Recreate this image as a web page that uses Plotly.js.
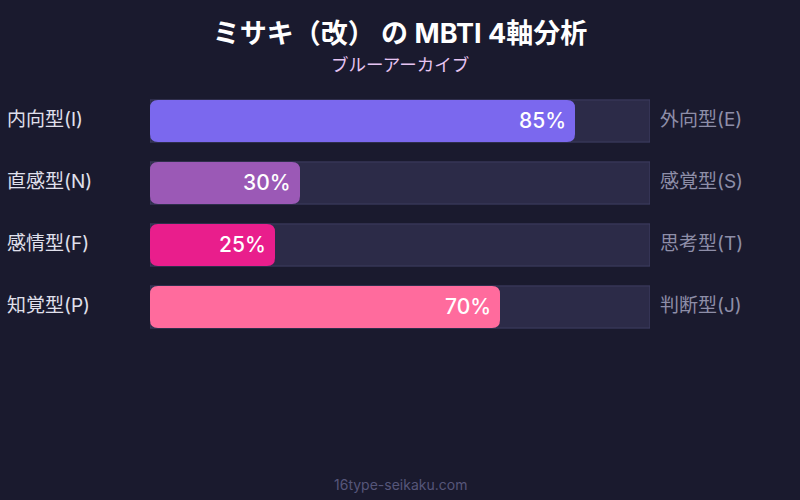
<!DOCTYPE html>
<html>
<head>
<meta charset="utf-8">
<script src="https://cdn.plot.ly/plotly-3.0.1.min.js"></script>
<style>html,body{margin:0;padding:0;background:#1a1a2e;}#chart{width:800px;height:500px;}</style>
</head>
<body>
<div id="chart"></div>
<script>
const axes = ["IE", "NS", "FT", "PJ"];
const leftLabels = ["内向型(I)", "直感型(N)", "感情型(F)", "知覚型(P)"];
const rightLabels = ["外向型(E)", "感覚型(S)", "思考型(T)", "判断型(J)"];
const values = [85, 30, 25, 70];
const trackValues = [100, 100, 100, 100];
const barColors = ["#7b68ee", "#9b59b6", "#e91e8c", "#ff6b9d"];

const FONT = "Inter, 'Noto Sans CJK JP', sans-serif";
const rows = axes.map((_, i) => i);

// geometry of the plot area (px) used to convert a px corner radius to data units
const W = 800, H = 500, M = {l: 150, r: 150, t: 90, b: 162};
const BAR_W = 0.68;            // bar thickness in category units
const RADIUS_PX = 8;
const XMAX = 100;
const pxPerX = (W - M.l - M.r) / XMAX;
const pxPerY = (H - M.t - M.b) / rows.length;
const rx = RADIUS_PX / pxPerX, ry = RADIUS_PX / pxPerY;

const track = {
  type: "bar", orientation: "h",
  x: trackValues, y: rows, width: BAR_W,
  marker: {color: "#2c2b48", line: {color: "#3f3e62", width: 1}},
  hoverinfo: "skip", showlegend: false
};

// rounded value bars, drawn in data coordinates from the values array
function roundedBar(v, yc, color) {
  const h = BAR_W / 2, y0 = yc - h, y1 = yc + h;
  const p = [
    `M${rx},${y0}`, `L${v - rx},${y0}`, `Q${v},${y0} ${v},${y0 + ry}`,
    `L${v},${y1 - ry}`, `Q${v},${y1} ${v - rx},${y1}`,
    `L${rx},${y1}`, `Q0,${y1} 0,${y1 - ry}`,
    `L0,${y0 + ry}`, `Q0,${y0} ${rx},${y0}`, "Z"
  ].join(" ");
  return {type: "path", xref: "x", yref: "y", path: p, fillcolor: color,
          line: {width: 0}, layer: "above"};
}
const shapes = values.map((v, i) => roundedBar(v, rows[i], barColors[i]));

const pyToPaper = py => (H - M.b - py) / (H - M.t - M.b);

const annotations = [];
rows.forEach((r, i) => {
  annotations.push({
    x: -0.29, xref: "paper", y: r, yref: "y", xanchor: "left", yanchor: "middle", yshift: 2,
    text: leftLabels[i], showarrow: false,
    font: {family: FONT, size: 19, color: "#e0e0ec"}
  });
  annotations.push({
    x: 1.016, xref: "paper", y: r, yref: "y", xanchor: "left", yanchor: "middle", yshift: 2,
    text: rightLabels[i], showarrow: false,
    font: {family: FONT, size: 19, color: "#8e8ea8"}
  });
  annotations.push({
    x: values[i], xref: "x", y: r, yref: "y", xanchor: "right", yanchor: "middle",
    xshift: -7, yshift: 1, text: values[i] + "%", showarrow: false,
    font: {family: FONT, size: 21, color: "#ffffff", weight: 500}
  });
});
annotations.push({
  x: 0.5, xref: "paper", y: pyToPaper(64), yref: "paper", xanchor: "center", yanchor: "middle",
  text: "ブルーアーカイブ", showarrow: false,
  font: {family: FONT, size: 17.5, color: "#e6c4f2"}
});
annotations.push({
  x: 0.5, xref: "paper", y: pyToPaper(484), yref: "paper", xanchor: "center", yanchor: "middle",
  text: "16type-seikaku.com", showarrow: false,
  font: {family: FONT, size: 14, color: "#56567a"}
});

const layout = {
  width: W, height: H,
  paper_bgcolor: "#1a1a2e", plot_bgcolor: "#1a1a2e",
  margin: M,
  barmode: "overlay",
  title: {
    text: "ミサキ（改） の MBTI 4軸分析",
    x: 0.5, xanchor: "center", y: 1 - 34/500, yref: "container", yanchor: "middle",
    font: {family: FONT, size: 27, color: "#ffffff", weight: 700}
  },
  xaxis: {range: [0, XMAX], showgrid: false, zeroline: false, showticklabels: false, showline: false, fixedrange: true},
  yaxis: {type: "linear", range: [rows.length - 0.5, -0.5], showgrid: false, zeroline: false, showticklabels: false, showline: false, fixedrange: true},
  shapes: shapes,
  annotations: annotations
};

Plotly.newPlot("chart", [track], layout, {displayModeBar: false, staticPlot: true});
</script>
</body>
</html>
